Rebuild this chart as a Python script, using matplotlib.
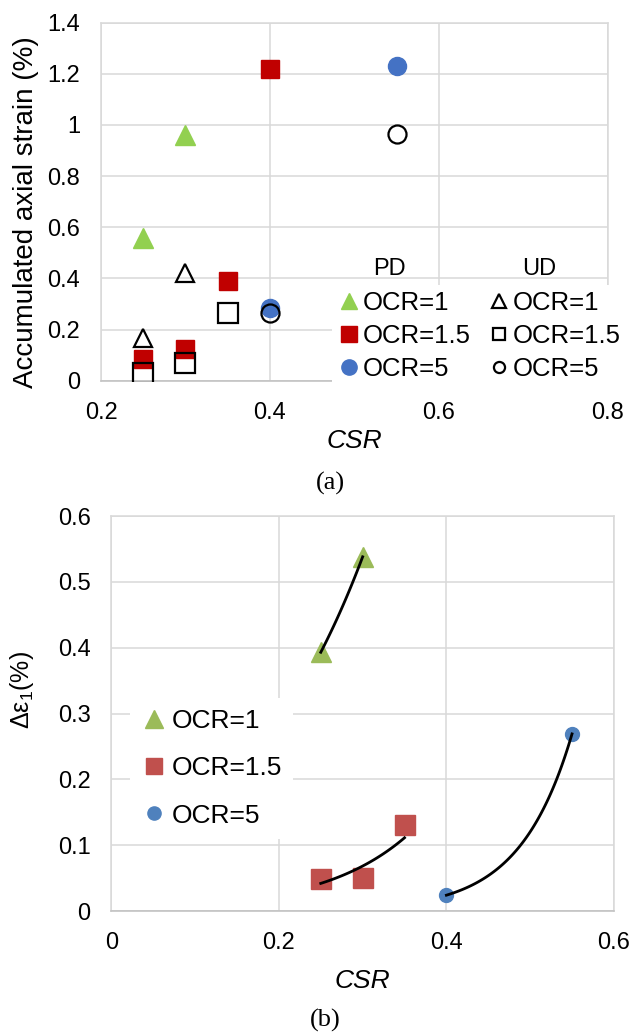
import numpy as np
import matplotlib
matplotlib.use("Agg")
import matplotlib.pyplot as plt
from matplotlib.lines import Line2D
from matplotlib.ticker import FuncFormatter

plt.rcParams['font.family'] = ['Liberation Sans', 'DejaVu Sans']
plt.rcParams['mathtext.fontset'] = 'custom'
plt.rcParams['mathtext.rm'] = 'Liberation Sans'

# ---- data, panel (a): accumulated axial strain vs CSR ----
pd_ocr1_csr = [0.25, 0.30]
pd_ocr1_eps = [0.56, 0.96]
pd_ocr15_csr = [0.25, 0.30, 0.35, 0.40]
pd_ocr15_eps = [0.085, 0.125, 0.39, 1.22]
pd_ocr5_csr = [0.40, 0.55]
pd_ocr5_eps = [0.283, 1.23]

ud_ocr1_csr = [0.25, 0.30]
ud_ocr1_eps = [0.166, 0.42]
ud_ocr15_csr = [0.25, 0.30, 0.35]
ud_ocr15_eps = [0.03, 0.068, 0.266]
ud_ocr5_csr = [0.40, 0.55]
ud_ocr5_eps = [0.265, 0.965]

# ---- data, panel (b): delta eps_1 vs CSR ----
b_ocr1_csr = [0.25, 0.30]
b_ocr1_de = [0.393, 0.538]
b_ocr15_csr = [0.25, 0.30, 0.35]
b_ocr15_de = [0.049, 0.050, 0.130]
b_ocr5_csr = [0.40, 0.55]
b_ocr5_de = [0.024, 0.269]

labels = ['OCR=1', 'OCR=1.5', 'OCR=5']

W, H = 632, 1035
fig = plt.figure(figsize=(W / 100, H / 100), dpi=100)

grid_c = '#D9D9D9'
fmt = FuncFormatter(lambda v, p: '%g' % round(v, 3))


def style_axes(ax):
    for s in ['left', 'top', 'right']:
        ax.spines[s].set_color(grid_c)
        ax.spines[s].set_linewidth(1.1)
    ax.spines['bottom'].set_color('#BFBFBF')
    ax.spines['bottom'].set_linewidth(1.1)
    ax.grid(True, color=grid_c, linewidth=1.1)
    ax.set_axisbelow(True)
    ax.tick_params(length=0, labelsize=17, pad=15)
    ax.xaxis.set_major_formatter(fmt)
    ax.yaxis.set_major_formatter(fmt)


# ---------------- panel (a) ----------------
ax1 = fig.add_axes([101 / W, 1 - 380.7 / H, 507 / W, 358 / H])
style_axes(ax1)
ax1.set_xlim(0.2, 0.8)
ax1.set_ylim(0, 1.4)
ax1.set_xticks([0.2, 0.4, 0.6, 0.8])
ax1.set_yticks(np.arange(0, 1.41, 0.2))

green_a, red_a, blue_a = '#92D050', '#C00000', '#4472C4'
ax1.plot(pd_ocr1_csr, pd_ocr1_eps, ls='none', marker='^', ms=14, color=green_a, zorder=3)
ax1.plot(pd_ocr15_csr, pd_ocr15_eps, ls='none', marker='s', ms=13, color=red_a, zorder=3)
ax1.plot(pd_ocr5_csr, pd_ocr5_eps, ls='none', marker='o', ms=13, color=blue_a, zorder=3)
ax1.plot(ud_ocr1_csr, ud_ocr1_eps, ls='none', marker='^', ms=13, mfc='none', mec='black', mew=1.6, zorder=4)
ax1.plot(ud_ocr15_csr, ud_ocr15_eps, ls='none', marker='s', ms=14, mfc='none', mec='black', mew=1.6, zorder=4)
ax1.plot(ud_ocr5_csr, ud_ocr5_eps, ls='none', marker='o', ms=13, mfc='none', mec='black', mew=1.6, zorder=4)

ax1.set_xlabel('CSR', fontsize=19, style='italic')
ax1.xaxis.set_label_coords(0.5, -(429 - 380.7) / 358, transform=ax1.transAxes)
ax1.set_ylabel('Accumulated axial strain (%)', fontsize=20)
ax1.yaxis.set_label_coords(-0.122, 0.47)

handles_a = [
    Line2D([], [], ls='none', marker='^', ms=12, color=green_a),
    Line2D([], [], ls='none', marker='s', ms=11, color=red_a),
    Line2D([], [], ls='none', marker='o', ms=11, color=blue_a),
    Line2D([], [], ls='none', marker='^', ms=10, mfc='none', mec='black', mew=1.6),
    Line2D([], [], ls='none', marker='s', ms=9, mfc='none', mec='black', mew=1.6),
    Line2D([], [], ls='none', marker='o', ms=8, mfc='none', mec='black', mew=1.6),
]
leg_a = fig.legend(handles_a, labels + labels, loc='upper left',
                   bbox_to_anchor=(332 / W, 1 - 285 / H), ncol=2, fontsize=18.5,
                   frameon=True, fancybox=False, framealpha=1, edgecolor='none',
                   facecolor='white', handlelength=0.8, handletextpad=0.15,
                   columnspacing=0.7, labelspacing=0.35, borderpad=0.25,
                   borderaxespad=0)
leg_a.set_zorder(10)
fig.text(389 / W, 1 - 269 / H, 'PD', fontsize=17, ha='center', va='center')
fig.text(539 / W, 1 - 269 / H, 'UD', fontsize=17, ha='center', va='center')

fig.text(330 / W, 1 - 483 / H, '(a)', fontsize=19, family='Liberation Serif',
         ha='center', va='center')

# ---------------- panel (b) ----------------
ax2 = fig.add_axes([111.4 / W, 1 - 911 / H, 502.5 / W, 395 / H])
style_axes(ax2)
ax2.set_xlim(0, 0.6)
ax2.set_ylim(0, 0.6)
ax2.set_xticks([0, 0.2, 0.4, 0.6])
ax2.set_yticks(np.arange(0, 0.61, 0.1))

green_b, red_b, blue_b = '#9BBB59', '#C0504D', '#4F81BD'
series_b = [
    (b_ocr1_csr, b_ocr1_de, '^', 15, green_b),
    (b_ocr15_csr, b_ocr15_de, 's', 14.5, red_b),
    (b_ocr5_csr, b_ocr5_de, 'o', 10, blue_b),
]
for xs, ys, mk, ms, col in series_b:
    ax2.plot(xs, ys, ls='none', marker=mk, ms=ms, color=col, zorder=3)
    # exponential trendline (least squares on log y)
    b, lna = np.polyfit(xs, np.log(ys), 1)
    xf = np.linspace(min(xs), max(xs), 100)
    ax2.plot(xf, np.exp(lna + b * xf), color='black', lw=2, zorder=4)

ax2.set_xlabel('CSR', fontsize=19, style='italic')
ax2.xaxis.set_label_coords(0.5, -(969 - 911) / 395, transform=ax2.transAxes)
ax2.set_ylabel(r'Δε$_\mathregular{1}$(%)', fontsize=18)
ax2.yaxis.set_label_coords(-0.15, 0.56)

handles_b = [
    Line2D([], [], ls='none', marker='^', ms=13, color=green_b),
    Line2D([], [], ls='none', marker='s', ms=12, color=red_b),
    Line2D([], [], ls='none', marker='o', ms=9.5, color=blue_b),
]
leg_b = ax2.legend(handles_b, labels, loc='upper left',
                   bbox_to_anchor=(130 / W, 1 - 698 / H),
                   bbox_transform=fig.transFigure, fontsize=19,
                   frameon=True, fancybox=False, framealpha=1, edgecolor='none',
                   facecolor='white', handlelength=1.0, handletextpad=0.15,
                   labelspacing=0.88, borderpad=0.42, borderaxespad=0)
leg_b.set_zorder(10)

fig.text(325 / W, 1 - 1020 / H, '(b)', fontsize=19, family='Liberation Serif',
         ha='center', va='center')

fig.savefig('out.png', dpi=100)
